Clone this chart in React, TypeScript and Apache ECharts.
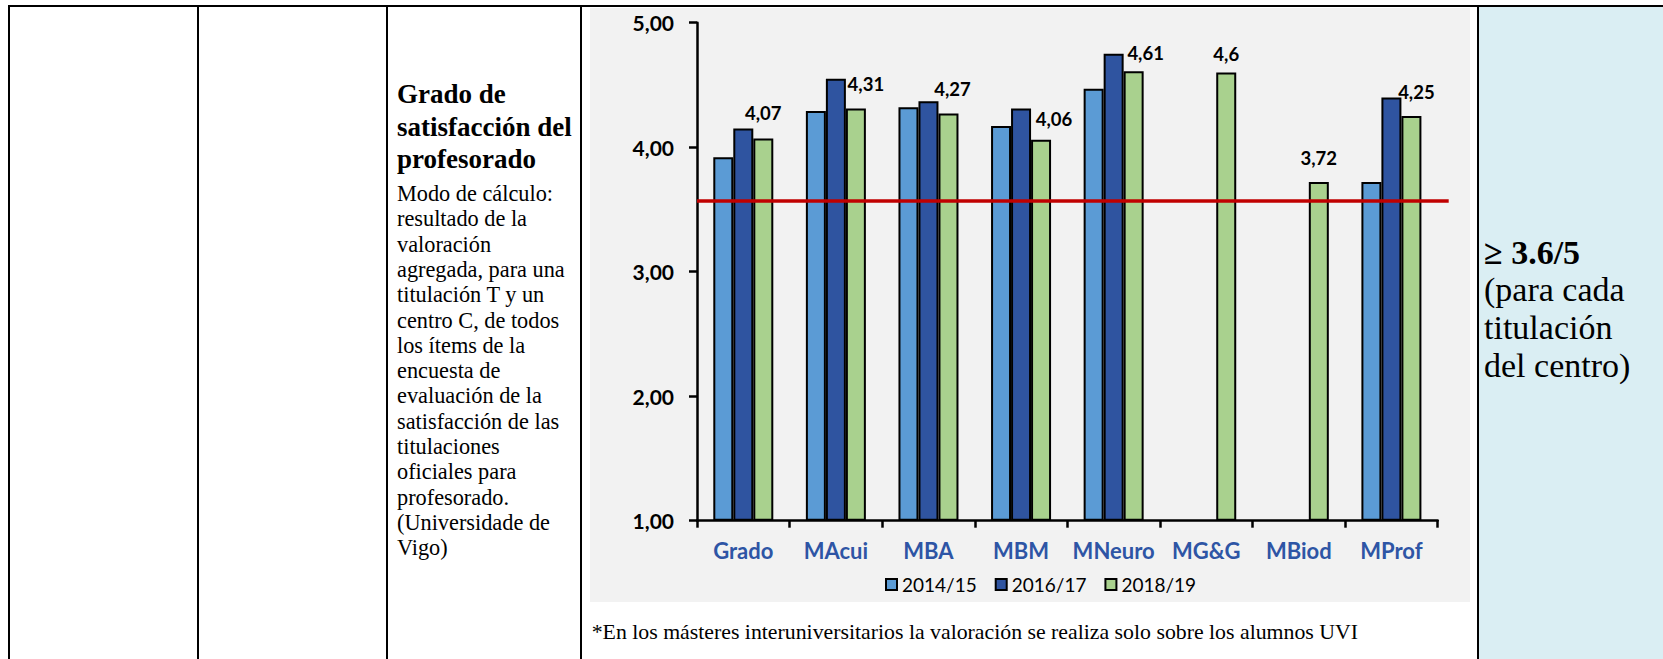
import React, { useEffect, useRef } from "react";
import * as echarts from "echarts";

// ---------- data ----------
const CATEGORIES = ["Grado", "MAcui", "MBA", "MBM", "MNeuro", "MG&G", "MBiod", "MProf"];
const SERIES_NAMES = ["2014/15", "2016/17", "2018/19"];
const VALUES_2014_15 = [3.92, 4.29, 4.32, 4.17, 4.47, null, null, 3.72];
const VALUES_2016_17 = [4.15, 4.55, 4.37, 4.31, 4.75, null, null, 4.4];
const VALUES_2018_19 = [4.07, 4.31, 4.27, 4.06, 4.61, 4.6, 3.72, 4.25];
const THRESHOLD = 3.57;
const Y_MIN = 1;
const Y_MAX = 5;
const Y_STEP = 1;

const TITLE_LINES = ["Grado de", "satisfacción del", "profesorado"];
const BODY_LINES = [
  "Modo de cálculo:",
  "resultado de la",
  "valoración",
  "agregada, para una",
  "titulación T y un",
  "centro C, de todos",
  "los ítems de la",
  "encuesta de",
  "evaluación de la",
  "satisfacción de las",
  "titulaciones",
  "oficiales para",
  "profesorado.",
  "(Universidade de",
  "Vigo)",
];
const TARGET_MAIN = "≥ 3.6/5";
const TARGET_LINES = ["(para cada", "titulación", "del centro)"];
const FOOTNOTE = "*En los másteres interuniversitarios la valoración se realiza solo sobre los alumnos UVI";

// ---------- styles ----------
const COLORS = ["#5B9BD5", "#2F54A0", "#A9D18E"];
const LABEL_NUDGE = [[0, -3], [10, -2], [4, -2], [13, 2], [12, 4], [0, 4], [0, -2], [5, -2]];
const SERIF = "'Liberation Serif', 'Times New Roman', serif";
const SANS = "Lato, 'Open Sans', sans-serif";

const CHART_LEFT = 590;
const CHART_TOP = 8;
const CHART_W = 880;
const CHART_H = 594;
const GRID_LEFT = 107;
const GRID_RIGHT = 32.3;
const GRID_TOP = 14.7;
const GRID_BOTTOM = 81.3;

const fmtComma = (v: number, digits?: number) =>
  (digits === undefined ? String(v) : v.toFixed(digits)).replace(".", ",");

export default function App() {
  const ref = useRef<HTMLDivElement>(null);

  useEffect(() => {
    if (!ref.current) return;
    const chart = echarts.init(ref.current, null, { renderer: "svg" });
    const seriesValues = [VALUES_2014_15, VALUES_2016_17, VALUES_2018_19];

    chart.setOption({
      animation: false,
      backgroundColor: "#F2F2F2",
      textStyle: { fontFamily: SANS },
      grid: { left: GRID_LEFT, right: GRID_RIGHT, top: GRID_TOP, bottom: GRID_BOTTOM },
      legend: {
        data: SERIES_NAMES,
        left: 290,
        top: 562,
        icon: "rect",
        itemWidth: 11,
        itemHeight: 11,
        itemGap: 18,
        selectedMode: false,
        itemStyle: { borderColor: "#000", borderWidth: 2 },
        textStyle: { fontFamily: SANS, fontSize: 19, color: "#000" },
      },
      xAxis: {
        type: "category",
        data: CATEGORIES,
        axisLine: { lineStyle: { color: "#000", width: 2.5 } },
        axisTick: { show: true, length: 7, lineStyle: { color: "#000", width: 2.5 } },
        axisLabel: {
          interval: 0,
          margin: 19,
          color: "#2E55A5",
          fontWeight: "bold",
          fontSize: 22,
          fontFamily: SANS,
        },
      },
      yAxis: {
        type: "value",
        min: Y_MIN,
        max: Y_MAX,
        interval: Y_STEP,
        startValue: Y_MIN,
        splitLine: { show: false },
        axisLine: { show: true, lineStyle: { color: "#000", width: 2.5 } },
        axisTick: { show: true, length: 8, lineStyle: { color: "#000", width: 2.5 } },
        axisLabel: {
          margin: 23,
          color: "#000",
          fontWeight: "bold",
          fontSize: 21,
          fontFamily: SANS,
          formatter: (v: number) => fmtComma(v, 2),
        },
      },
      series: SERIES_NAMES.map((name, si) => {
        const isLast = si === SERIES_NAMES.length - 1;
        const data = seriesValues[si].map((v, i) =>
          isLast ? { value: v, label: { offset: LABEL_NUDGE[i] } } : v
        );
        const s: any = {
          name,
          type: "bar",
          data,
          barWidth: 20,
          barGap: "0%",
          itemStyle: { color: COLORS[si], borderColor: "#000", borderWidth: 2 },
          emphasis: { disabled: true },
        };
        if (isLast) {
          s.label = {
            show: true,
            position: "top",
            distance: 13,
            color: "#000",
            fontWeight: "bold",
            fontSize: 18.5,
            fontFamily: SANS,
            formatter: (p: any) => fmtComma(p.value),
          };
          s.markLine = {
            silent: true,
            symbol: ["none", "none"],
            label: { show: false },
            lineStyle: { color: "#C00000", width: 3.5, type: "solid" },
            data: [
              [
                { yAxis: THRESHOLD, x: GRID_LEFT },
                { yAxis: THRESHOLD, x: CHART_W - GRID_RIGHT + 11 },
              ],
            ],
          };
        }
        return s;
      }),
    });

    return () => chart.dispose();
  }, []);

  const vline = (x: number) => (
    <div style={{ position: "absolute", left: x, top: 5, width: 2, height: 654, background: "#000" }} />
  );

  return (
    <div
      style={{
        position: "absolute",
        left: 0,
        top: 0,
        width: 1663,
        height: 659,
        overflow: "hidden",
        background: "#fff",
      }}
    >
      <div style={{ position: "absolute", left: 1479, top: 7, width: 184, height: 652, background: "#DAEEF3" }} />
      <div style={{ position: "absolute", left: 8, top: 5, width: 1655, height: 2, background: "#000" }} />
      {vline(8)}
      {vline(197)}
      {vline(386)}
      {vline(580)}
      {vline(1477)}

      <div
        style={{
          position: "absolute",
          left: 397,
          top: 77.6,
          fontFamily: SERIF,
          fontWeight: "bold",
          fontSize: 27,
          lineHeight: "32.9px",
          whiteSpace: "pre",
          color: "#000",
        }}
      >
        {TITLE_LINES.map((t, i) => (
          <div key={i}>{t}</div>
        ))}
      </div>

      <div
        style={{
          position: "absolute",
          left: 397,
          top: 181.1,
          fontFamily: SERIF,
          fontSize: 22.3,
          lineHeight: "25.3px",
          whiteSpace: "pre",
          color: "#000",
        }}
      >
        {BODY_LINES.map((t, i) => (
          <div key={i}>{t}</div>
        ))}
      </div>

      <div
        ref={ref}
        style={{ position: "absolute", left: CHART_LEFT, top: CHART_TOP, width: CHART_W, height: CHART_H }}
      />

      <div
        style={{
          position: "absolute",
          left: 591.7,
          top: 620.2,
          fontFamily: SERIF,
          fontSize: 21.8,
          lineHeight: "25px",
          whiteSpace: "pre",
          color: "#000",
        }}
      >
        {FOOTNOTE}
      </div>

      <div
        style={{
          position: "absolute",
          left: 1484,
          top: 233.6,
          fontFamily: SERIF,
          fontSize: 34,
          lineHeight: "37.7px",
          whiteSpace: "pre",
          color: "#000",
        }}
      >
        <div style={{ fontWeight: "bold" }}>{TARGET_MAIN}</div>
        {TARGET_LINES.map((t, i) => (
          <div key={i}>{t}</div>
        ))}
      </div>
    </div>
  );
}
